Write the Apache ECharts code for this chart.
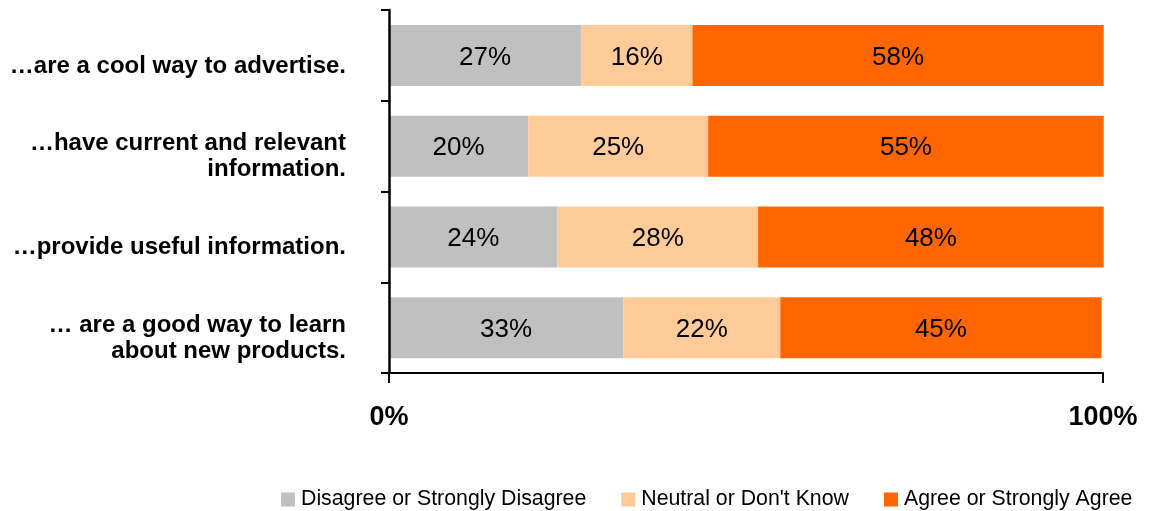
<!DOCTYPE html>
<html>
<head>
<meta charset="utf-8">
<script src="https://cdn.jsdelivr.net/npm/echarts@6/dist/echarts.min.js"></script>
<style>
html,body{margin:0;padding:0;background:#fff;}
#chart{width:1152px;height:511px;}
</style>
</head>
<body>
<div id="chart"></div>
<script>
const categories = [
  '…are a cool way to advertise.',
  '…have current and relevant\ninformation.',
  '…provide useful information.',
  '… are a good way to learn\nabout new products.'
];
const seriesNames = ['Disagree or Strongly Disagree', "Neutral or Don't Know", 'Agree or Strongly Agree'];
const disagree = [26.9, 19.5, 23.6, 32.8];
const neutral  = [15.6, 25.2, 28.1, 22.0];
const agree    = [57.6, 55.4, 48.4, 45.0];
const xTickLabels = ['0%', '100%'];

const colors = ['#C0C0C0', '#FFCC99', '#FF6600'];
const FONT = '"Liberation Sans", Arial, sans-serif';

function mkSeries(name, data, color) {
  return {
    name: name,
    type: 'bar',
    stack: 'total',
    data: data,
    barWidth: 61,
    clip: false,
    itemStyle: { color: color },
    label: {
      show: true,
      position: 'inside',
      color: '#000',
      fontFamily: FONT,
      fontSize: 26,
      offset: [0, 2],
      formatter: p => Math.round(p.value) + '%'
    },
    emphasis: { disabled: true }
  };
}

const chart = echarts.init(document.getElementById('chart'));
chart.setOption({
  backgroundColor: '#fff',
  animation: false,
  textStyle: { fontFamily: FONT },
  grid: { left: 389, right: 49, top: 10, bottom: 138, containLabel: false },
  legend: {
    data: seriesNames,
    left: 281,
    top: 489,
    padding: 0,
    icon: 'rect',
    itemWidth: 14,
    itemHeight: 14,
    itemGap: 35,
    textStyle: { fontFamily: FONT, fontSize: 21.3, color: '#000', padding: [0, 0, 0, 1] }
  },
  xAxis: {
    type: 'value',
    min: 0,
    max: 100,
    interval: 100,
    z: 5,
    splitLine: { show: false },
    axisLine: { show: true, lineStyle: { color: '#000', width: 2 } },
    axisTick: { show: true, length: 10, lineStyle: { color: '#000', width: 2 } },
    axisLabel: {
      margin: 31,
      fontFamily: FONT,
      fontSize: 27,
      fontWeight: 'bold',
      color: '#000',
      formatter: v => xTickLabels[v === 0 ? 0 : 1]
    }
  },
  yAxis: {
    type: 'category',
    data: categories,
    inverse: true,
    z: 5,
    axisLine: { show: true, lineStyle: { color: '#000', width: 2.5 } },
    axisTick: { show: true, length: 8, lineStyle: { color: '#000', width: 2 } },
    axisLabel: {
      margin: 43,
      fontFamily: FONT,
      fontSize: 24,
      fontWeight: 'bold',
      color: '#000',
      lineHeight: 26,
      align: 'right',
      formatter: v => '{gap| }\n' + v,
      rich: {
        gap: { fontSize: 4, lineHeight: 21, height: 21 }
      }
    }
  },
  series: [
    mkSeries(seriesNames[0], disagree, colors[0]),
    mkSeries(seriesNames[1], neutral, colors[1]),
    mkSeries(seriesNames[2], agree, colors[2])
  ]
});
</script>
</body>
</html>
